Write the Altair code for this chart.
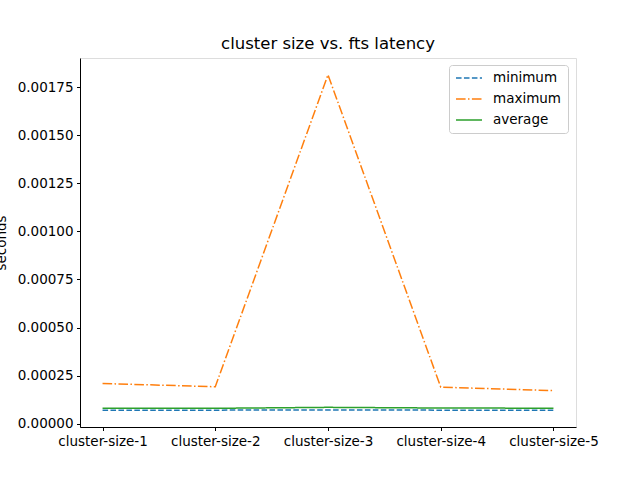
import altair as alt
import pandas as pd

categories = ["cluster-size-1", "cluster-size-2", "cluster-size-3", "cluster-size-4", "cluster-size-5"]
minimum = [0.0000705, 0.0000705, 0.0000710, 0.0000705, 0.0000705]
maximum = [0.000209, 0.000192, 0.001814, 0.000190, 0.000172]
average = [0.0000808, 0.0000800, 0.0000850, 0.0000815, 0.0000805]
series_names = ["minimum", "maximum", "average"]
colors = ["#1f77b4", "#ff7f0e", "#2ca02c"]
dashes = [[5.55, 2.4], [9.6, 2.4, 1.5, 2.4], [1, 0]]

rows = []
for name, vals in zip(series_names, [minimum, maximum, average]):
    for c, v in zip(categories, vals):
        rows.append({"cluster": c, "seconds": v, "series": name})
df = pd.DataFrame(rows)

font = "DejaVu Sans"

chart = alt.Chart(df).mark_line(strokeWidth=1.5).encode(
    x=alt.X("cluster:N", sort=categories,
            scale=alt.Scale(type="point", padding=0.2),
            axis=alt.Axis(title=None, labelAngle=0, tickSize=3.5, labelPadding=3.5,
                          grid=False, domainColor="black", tickColor="black",
                          labelColor="black", labelFont=font, labelFontSize=13.5)),
    y=alt.Y("seconds:Q",
            scale=alt.Scale(domain=[-0.0000172, 0.0019012], nice=False, zero=False),
            axis=alt.Axis(title="seconds", format=".5f",
                          values=[0, 0.00025, 0.0005, 0.00075, 0.001, 0.00125, 0.0015, 0.00175],
                          tickSize=3.5, labelPadding=3.5, grid=False,
                          domainColor="black", tickColor="black", labelColor="black",
                          labelFont=font, labelFontSize=13.5,
                          titleFont=font, titleFontSize=13.5, titleFontWeight="normal",
                          titleColor="black", titleAngle=-90, titleX=-75, titleY=184.5,
                          titleAlign="center", titleBaseline="alphabetic")),
    color=alt.Color("series:N",
                    scale=alt.Scale(domain=series_names, range=colors),
                    sort=series_names,
                    legend=alt.Legend(title=None, orient="none", legendX=369, legendY=7,
                                      symbolType="stroke", symbolSize=676,
                                      symbolStrokeWidth=1.5,
                                      labelFont=font, labelFontSize=13.5, labelColor="black",
                                      labelOffset=10, rowPadding=7, clipHeight=14,
                                      padding=6, fillColor="white",
                                      strokeColor="#cccccc", cornerRadius=3)),
    strokeDash=alt.StrokeDash("series:N",
                              scale=alt.Scale(domain=series_names, range=dashes),
                              sort=series_names, legend=None),
).properties(
    width=496, height=369,
    title=alt.TitleParams("cluster size vs. fts latency", font=font, fontSize=16.5,
                          fontWeight="normal", color="black", offset=8, dy=15,
                          baseline="alphabetic", anchor="middle"),
    autosize=alt.AutoSizeParams(type="none"),
    padding={"left": 80, "top": 58, "right": 64, "bottom": 53},
).configure_view(stroke="black", strokeWidth=1).configure(background="white")

chart.save("out.html", embed_options={"renderer": "svg", "actions": False})
